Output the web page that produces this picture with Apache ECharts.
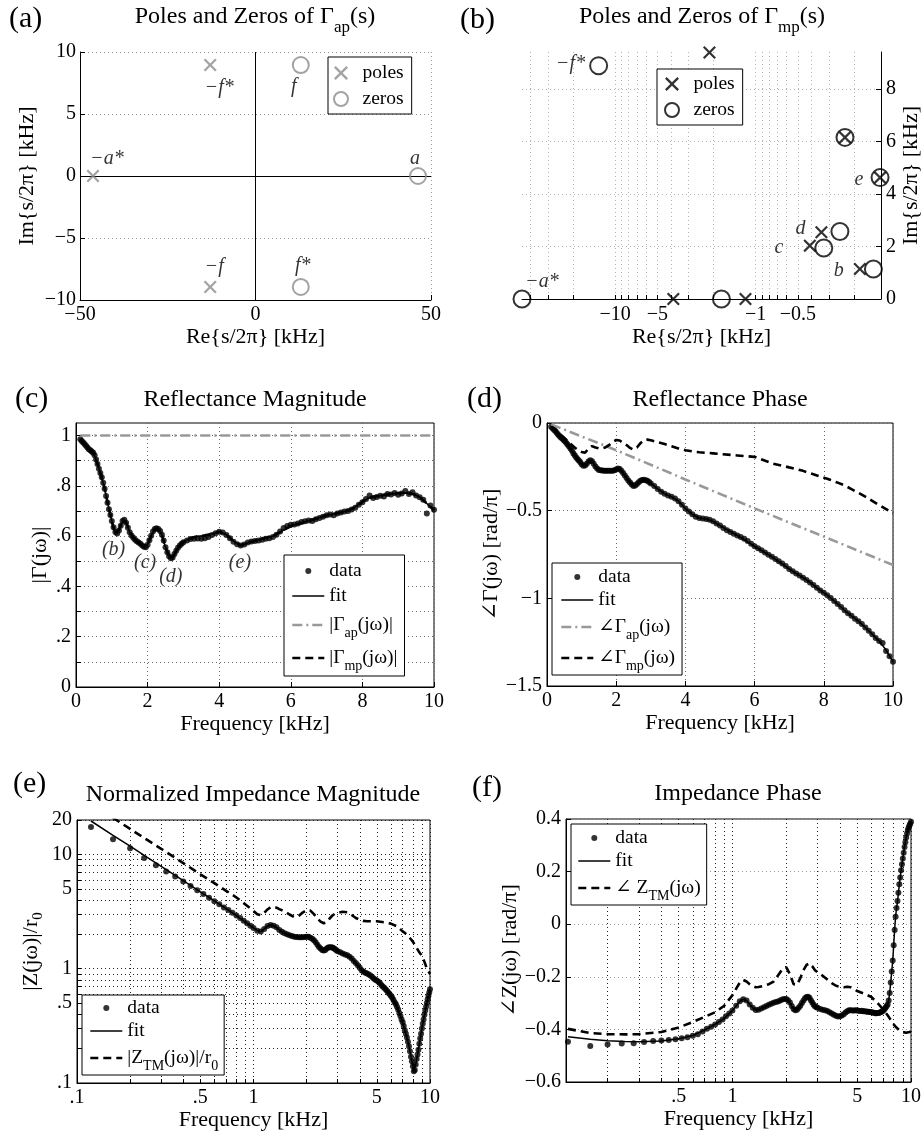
<!DOCTYPE html>
<html>
<head>
<meta charset="utf-8">
<script src="https://cdn.jsdelivr.net/npm/echarts@6/dist/echarts.min.js"></script>
<style>
  html, body { margin: 0; padding: 0; background: #fff; }
  #chart { width: 922px; height: 1131px; }
</style>
</head>
<body>
<div id="chart"></div>
<script>
// ---------------- pole / zero locations (kHz) ----------------
const apPoles = [[-46.3, 0], [-12.9, 8.95], [-12.9, -8.95]];
const apPoleNames = ['\u2212a*', '\u2212f*', '\u2212f'];
const apZeros = [[46.3, 0], [12.9, 8.95], [12.9, -8.95]];
const apZeroNames = ['a', 'f', 'f*'];

const mpPoles = [[-3.85, 0], [-1.18, 0], [-2.13, 9.38], [-0.231, 6.15], [-0.13, 4.62],
                 [-0.340, 2.54], [-0.411, 2.03], [-0.181, 1.14]];
const mpPoleNames = ['', '', '', '', 'e', 'd', 'c', 'b'];
const mpZeros = [[-46, 0], [-1.75, 0], [-13.1, 8.88], [-0.231, 6.15], [-0.13, 4.62],
                 [-0.251, 2.57], [-0.327, 1.94], [-0.145, 1.14]];
const mpZeroNames = ['\u2212a*', '', '\u2212f*', '', '', '', '', ''];

// ---------------- measured data (frequency in kHz) ----------------
const dataFreq = [
  0.12, 0.16, 0.20, 0.24, 0.28, 0.32, 0.36, 0.40, 0.44, 0.48,
  0.52, 0.56, 0.60, 0.64, 0.68, 0.72, 0.76, 0.80, 0.84, 0.88,
  0.92, 0.96, 1.00,
  1.05, 1.10, 1.15, 1.20, 1.25, 1.30, 1.35, 1.40, 1.45, 1.50,
  1.55, 1.60, 1.65, 1.70, 1.75, 1.80, 1.85, 1.90, 1.95, 2.00,
  2.05, 2.10, 2.15, 2.20, 2.25, 2.30, 2.35, 2.40, 2.45, 2.50,
  2.55, 2.60, 2.65, 2.70, 2.75, 2.80, 2.85, 2.90, 2.95, 3.00,
  3.1, 3.2, 3.3, 3.4, 3.5, 3.6, 3.7, 3.8, 3.9, 4.0,
  4.1, 4.2, 4.3, 4.4, 4.5, 4.6, 4.7, 4.8, 4.9, 5.0,
  5.1, 5.2, 5.3, 5.4, 5.5, 5.6, 5.7, 5.8, 5.9, 6.0,
  6.1, 6.2, 6.3, 6.4, 6.5, 6.6, 6.7, 6.8, 6.9, 7.0,
  7.1, 7.2, 7.3, 7.4, 7.5, 7.6, 7.7, 7.8, 7.9, 8.0,
  8.1, 8.2, 8.3, 8.4, 8.5, 8.6, 8.7, 8.8, 8.9, 9.0,
  9.1, 9.2, 9.3, 9.4, 9.5, 9.6, 9.7, 9.8, 9.9, 10.0
];
// |Gamma(jw)|
const magData = [
  0.985, 0.978, 0.972, 0.966, 0.960, 0.953, 0.946, 0.942, 0.937, 0.932,
  0.922, 0.905, 0.887, 0.868, 0.851, 0.834, 0.812, 0.788, 0.760, 0.733,
  0.707, 0.684, 0.660,
  0.635, 0.616, 0.611, 0.622, 0.641, 0.660, 0.665, 0.653, 0.633, 0.615,
  0.603, 0.594, 0.586, 0.580, 0.575, 0.570, 0.563, 0.558, 0.556, 0.566,
  0.584, 0.602, 0.618, 0.628, 0.631, 0.628, 0.620, 0.606, 0.583, 0.556,
  0.536, 0.520, 0.512, 0.515, 0.529, 0.542, 0.554, 0.563, 0.570, 0.576,
  0.583, 0.589, 0.590, 0.591, 0.590, 0.592, 0.597, 0.605, 0.612, 0.617,
  0.614, 0.605, 0.592, 0.578, 0.568, 0.563, 0.567, 0.575, 0.579, 0.581,
  0.583, 0.586, 0.590, 0.592, 0.597, 0.606, 0.618, 0.632, 0.640, 0.645,
  0.646, 0.650, 0.656, 0.659, 0.662, 0.660, 0.667, 0.672, 0.677, 0.683,
  0.686, 0.683, 0.690, 0.694, 0.698, 0.700, 0.706, 0.713, 0.725, 0.735,
  0.748, 0.762, 0.752, 0.756, 0.761, 0.758, 0.768, 0.766, 0.772, 0.765,
  0.770, 0.780, 0.768, 0.775, 0.762, 0.755, 0.745, 0.690, 0.722, 0.705
];
// angle Gamma(jw) [rad/pi]
const phaseData = [
  -0.022, -0.030, -0.038, -0.046, -0.056, -0.066, -0.074, -0.082, -0.089, -0.097,
  -0.104, -0.114, -0.124, -0.134, -0.146, -0.157, -0.172, -0.184, -0.195, -0.205,
  -0.214, -0.223, -0.235,
  -0.244, -0.243, -0.232, -0.220, -0.212, -0.218, -0.232, -0.248, -0.259, -0.268,
  -0.270, -0.271, -0.272, -0.272, -0.273, -0.273, -0.273, -0.273, -0.270, -0.265,
  -0.260, -0.262, -0.272, -0.285, -0.300, -0.314, -0.328, -0.340, -0.351, -0.360,
  -0.356, -0.348, -0.338, -0.330, -0.325, -0.323, -0.326, -0.330, -0.337, -0.345,
  -0.360, -0.376, -0.392, -0.404, -0.414, -0.421, -0.430, -0.446, -0.466, -0.488,
  -0.505, -0.521, -0.535, -0.542, -0.545, -0.547, -0.552, -0.561, -0.573, -0.585,
  -0.599, -0.612, -0.621, -0.631, -0.641, -0.650, -0.660, -0.673, -0.688, -0.703,
  -0.714, -0.726, -0.739, -0.751, -0.763, -0.776, -0.788, -0.801, -0.816, -0.832,
  -0.846, -0.858, -0.870, -0.882, -0.895, -0.909, -0.924, -0.940, -0.955, -0.968,
  -0.983, -0.998, -1.015, -1.032, -1.049, -1.068, -1.085, -1.100, -1.116, -1.130,
  -1.147, -1.166, -1.185, -1.205, -1.226, -1.244, -1.255, -1.300, -1.330, -1.362
];
// |Z(jw)|/r0
const zMagData = [
  17.4, 13.6, 11.3, 9.3, 8.05, 7.1, 6.4, 5.8, 5.3, 4.85,
  4.5, 4.18, 3.9, 3.66, 3.44, 3.26, 3.08, 2.92, 2.78, 2.63,
  2.50, 2.38, 2.27,
  2.15, 2.12, 2.22, 2.36, 2.41, 2.38, 2.30, 2.18, 2.10, 2.04,
  2.00, 1.96, 1.93, 1.90, 1.89, 1.88, 1.88, 1.88, 1.89, 1.90,
  1.90, 1.87, 1.83, 1.77, 1.70, 1.62, 1.55, 1.50, 1.46, 1.44,
  1.46, 1.50, 1.53, 1.54, 1.54, 1.53, 1.51, 1.48, 1.45, 1.42,
  1.39, 1.36, 1.33, 1.31, 1.27, 1.23, 1.17, 1.12, 1.07, 1.02,
  0.97, 0.94, 0.92, 0.91, 0.89, 0.87, 0.845, 0.82, 0.80, 0.79,
  0.77, 0.75, 0.72, 0.70, 0.68, 0.66, 0.64, 0.62, 0.60, 0.58,
  0.56, 0.535, 0.51, 0.49, 0.465, 0.44, 0.41, 0.385, 0.36, 0.34,
  0.315, 0.29, 0.27, 0.25, 0.23, 0.21, 0.19, 0.17, 0.155, 0.14,
  0.127, 0.13, 0.145, 0.162, 0.178, 0.195, 0.22, 0.245, 0.27, 0.30,
  0.33, 0.36, 0.395, 0.43, 0.465, 0.50, 0.54, 0.58, 0.62, 0.66
];
// angle Z(jw) [rad/pi]
const zPhaseData = [
  -0.447, -0.463, -0.457, -0.454, -0.453, -0.448, -0.444, -0.442, -0.440, -0.437,
  -0.434, -0.430, -0.424, -0.418, -0.408, -0.398, -0.390, -0.381, -0.372, -0.362,
  -0.350, -0.340, -0.328,
  -0.310, -0.293, -0.285, -0.290, -0.305, -0.318, -0.326, -0.325, -0.321, -0.316,
  -0.311, -0.306, -0.302, -0.299, -0.296, -0.294, -0.290, -0.286, -0.284, -0.284,
  -0.289, -0.298, -0.311, -0.322, -0.327, -0.325, -0.318, -0.310, -0.300, -0.290,
  -0.282, -0.277, -0.276, -0.280, -0.289, -0.298, -0.306, -0.312, -0.316, -0.318,
  -0.322, -0.325, -0.327, -0.330, -0.335, -0.340, -0.344, -0.348, -0.351, -0.350,
  -0.347, -0.342, -0.336, -0.331, -0.327, -0.327, -0.328, -0.328, -0.327, -0.328,
  -0.329, -0.330, -0.329, -0.331, -0.331, -0.332, -0.333, -0.333, -0.334, -0.335,
  -0.336, -0.337, -0.339, -0.339, -0.338, -0.338, -0.336, -0.334, -0.331, -0.328,
  -0.323, -0.318, -0.312, -0.305, -0.290, -0.262, -0.222, -0.180, -0.138, -0.080,
  -0.022, 0.028, 0.062, 0.088, 0.120, 0.152, 0.178, 0.205, 0.228, 0.250,
  0.272, 0.294, 0.312, 0.330, 0.345, 0.358, 0.367, 0.375, 0.382, 0.390
];

// ---------------- model curves (frequency in kHz) ----------------
const fitFreq = [
  0.12, 0.16, 0.2, 0.25, 0.3, 0.4, 0.5, 0.6, 0.7, 0.8, 0.9, 1.0,
  1.05, 1.1, 1.15, 1.2, 1.25, 1.3, 1.35, 1.4,
  1.5, 1.6, 1.7, 1.8, 1.9, 2.0, 2.1, 2.2, 2.3, 2.4, 2.5, 2.6, 2.7, 2.8, 2.9, 3.0,
  3.2, 3.4, 3.6, 3.8, 4.0, 4.2, 4.4, 4.6, 4.8, 5.0,
  5.5, 6.0, 6.5, 7.0,
  7.2, 7.4, 7.5, 7.6, 7.7, 7.8, 7.9, 8.0, 8.1, 8.2, 8.3, 8.4,
  8.6, 8.8, 9.0, 9.2, 9.4, 9.6, 9.8, 10.0
];
const magFit = [
  0.985, 0.978, 0.972, 0.965, 0.957, 0.943, 0.928, 0.888, 0.843, 0.789, 0.722, 0.660,
  0.632, 0.615, 0.612, 0.624, 0.642, 0.660, 0.664, 0.654,
  0.616, 0.594, 0.580, 0.569, 0.559, 0.567, 0.602, 0.627, 0.628, 0.605, 0.556, 0.521, 0.514, 0.541, 0.563, 0.577,
  0.592, 0.600, 0.603, 0.609, 0.618, 0.606, 0.580, 0.563, 0.573, 0.582,
  0.600, 0.640, 0.661, 0.683,
  0.688, 0.694, 0.698, 0.702, 0.708, 0.716, 0.726, 0.737, 0.746, 0.752, 0.756, 0.759,
  0.764, 0.768, 0.771, 0.772, 0.768, 0.756, 0.730, 0.703
];
const phaseFit = [
  -0.022, -0.030, -0.038, -0.048, -0.060, -0.082, -0.100, -0.124, -0.152, -0.184, -0.210, -0.235,
  -0.244, -0.243, -0.232, -0.220, -0.212, -0.218, -0.232, -0.248,
  -0.268, -0.271, -0.272, -0.273, -0.273, -0.265, -0.262, -0.285, -0.314, -0.340, -0.360, -0.348, -0.330, -0.323, -0.330, -0.345,
  -0.376, -0.404, -0.421, -0.446, -0.488, -0.521, -0.542, -0.547, -0.561, -0.585,
  -0.641, -0.703, -0.763, -0.832,
  -0.858, -0.882, -0.895, -0.909, -0.924, -0.940, -0.955, -0.968, -0.983, -0.998, -1.015, -1.032,
  -1.068, -1.100, -1.130, -1.166, -1.205, -1.244, -1.295, -1.362
];
const phaseMp = [
  -0.020, -0.026, -0.032, -0.040, -0.050, -0.068, -0.085, -0.104, -0.122, -0.140, -0.155, -0.165,
  -0.170, -0.170, -0.160, -0.145, -0.134, -0.132, -0.134, -0.140,
  -0.145, -0.144, -0.138, -0.125, -0.108, -0.097, -0.100, -0.113, -0.126, -0.142, -0.152, -0.140, -0.115, -0.098, -0.095, -0.098,
  -0.110, -0.120, -0.132, -0.145, -0.155, -0.162, -0.167, -0.170, -0.173, -0.177,
  -0.185, -0.193, -0.230, -0.253,
  -0.262, -0.273, -0.280, -0.286, -0.292, -0.299, -0.306, -0.312, -0.318, -0.325, -0.333, -0.340,
  -0.356, -0.377, -0.398, -0.420, -0.444, -0.468, -0.491, -0.514
];
const apMagFreq = [0.12, 10];
const apMag = [1, 1];
const apPhaseFreq = [0.12, 2, 4, 6, 8, 10];
const apPhase = [-0.008, -0.155, -0.322, -0.487, -0.648, -0.810];

const zMagFit = [
  19.6, 14.7, 11.8, 9.4, 7.85, 5.9, 4.7, 3.92, 3.35, 2.92, 2.55, 2.28,
  2.15, 2.12, 2.22, 2.36, 2.41, 2.38, 2.30, 2.18,
  2.04, 1.96, 1.90, 1.88, 1.88, 1.90, 1.88, 1.77, 1.62, 1.50, 1.44, 1.50, 1.54, 1.53, 1.48, 1.42,
  1.36, 1.31, 1.23, 1.12, 1.02, 0.94, 0.91, 0.87, 0.82, 0.79,
  0.68, 0.58, 0.465, 0.34,
  0.29, 0.25, 0.23, 0.21, 0.19, 0.17, 0.155, 0.14, 0.128, 0.13, 0.145, 0.162,
  0.195, 0.245, 0.30, 0.36, 0.43, 0.50, 0.58, 0.66
];
const zMagTM = [
  27.9, 20.9, 16.7, 13.4, 11.2, 8.4, 6.7, 5.6, 4.8, 4.2, 3.65, 3.2,
  3.0, 2.94, 3.08, 3.3, 3.45, 3.48, 3.42, 3.32,
  3.18, 2.98, 2.83, 2.88, 3.1, 3.26, 3.22, 3.0, 2.75, 2.58, 2.5, 2.55, 2.75, 2.92, 3.04, 3.08,
  3.15, 3.12, 2.95, 2.78, 2.68, 2.62, 2.6, 2.6, 2.6, 2.6,
  2.55, 2.48, 2.35, 2.12,
  2.06, 1.98, 1.94, 1.9, 1.86, 1.81, 1.76, 1.72, 1.67, 1.62, 1.57, 1.52,
  1.43, 1.36, 1.3, 1.2, 1.1, 1.0, 0.95, 0.9
];
const zPhaseFit = [
  -0.428, -0.437, -0.443, -0.446, -0.447, -0.444, -0.436, -0.423, -0.402, -0.381, -0.358, -0.328,
  -0.310, -0.293, -0.285, -0.290, -0.305, -0.318, -0.326, -0.325,
  -0.316, -0.306, -0.299, -0.294, -0.286, -0.284, -0.298, -0.322, -0.325, -0.310, -0.290, -0.277, -0.280, -0.298, -0.312, -0.318,
  -0.325, -0.330, -0.340, -0.348, -0.350, -0.342, -0.330, -0.327, -0.328, -0.328,
  -0.331, -0.334, -0.338, -0.328,
  -0.318, -0.305, -0.290, -0.260, -0.220, -0.180, -0.140, -0.080, -0.020, 0.030, 0.060, 0.085,
  0.150, 0.205, 0.250, 0.295, 0.330, 0.358, 0.375, 0.390
];
const zPhaseTM = [
  -0.398, -0.414, -0.418, -0.419, -0.418, -0.410, -0.393, -0.372, -0.352, -0.335, -0.310, -0.270,
  -0.245, -0.222, -0.212, -0.218, -0.228, -0.236, -0.240, -0.239,
  -0.234, -0.228, -0.218, -0.195, -0.172, -0.163, -0.190, -0.228, -0.230, -0.205, -0.175, -0.155, -0.149, -0.160, -0.175, -0.183,
  -0.196, -0.210, -0.224, -0.234, -0.238, -0.240, -0.238, -0.240, -0.247, -0.254,
  -0.265, -0.277, -0.300, -0.325,
  -0.336, -0.346, -0.352, -0.358, -0.364, -0.370, -0.376, -0.381, -0.386, -0.390, -0.394, -0.397,
  -0.403, -0.407, -0.410, -0.412, -0.413, -0.412, -0.410, -0.408
];

// resonance annotations on the magnitude plot: text and data-space anchor
const noteNames = ['(b)', '(c)', '(d)', '(e)'];
const noteAt = [[1.05, 0.545], [1.93, 0.495], [2.65, 0.44], [4.58, 0.495]];

// tick positions
const logTicksB = [0.2, 0.3, 0.4, 0.5, 0.6, 0.7, 0.8, 0.9, 1, 2, 3, 4, 5, 6, 7, 8, 9, 10, 20, 30, 40];
const logLabelsB = [10, 5, 1, 0.5];
const logTicksE = [0.1, 0.2, 0.3, 0.4, 0.5, 0.6, 0.7, 0.8, 0.9, 1, 2, 3, 4, 5, 6, 7, 8, 9, 10];
const logLabelsE = [0.1, 0.5, 1, 5, 10];
const logTicksEy = [0.1, 0.2, 0.3, 0.4, 0.5, 0.6, 0.7, 0.8, 0.9, 1, 2, 3, 4, 5, 6, 7, 8, 9, 10, 20];
const logLabelsEy = [0.1, 0.5, 1, 5, 10, 20];
const logTicksF = [0.2, 0.3, 0.4, 0.5, 0.6, 0.7, 0.8, 0.9, 1, 2, 3, 4, 5, 6, 7, 8, 9, 10];
const logLabelsF = [0.5, 1, 5, 10];
const magTicks = [0, 0.1, 0.2, 0.3, 0.4, 0.5, 0.6, 0.7, 0.8, 0.9, 1];
const magLabels = [0, 0.2, 0.4, 0.6, 0.8, 1];
const imTicksB = [0, 2, 4, 6, 8];

// ---------------- styling helpers ----------------
const SERIF = "'Liberation Serif','DejaVu Serif','Times New Roman',serif";
const BLACK = '#000';
const GREY = '#8c8c8c';
const NONE = 'rgba(0,0,0,0)';
const CROSS = 'path://M1.2,0L5,3.8L8.8,0L10,1.2L6.2,5L10,8.8L8.8,10L5,6.2L1.2,10L0,8.8L3.8,5L0,1.2Z';

const pairs = (xs, ys) => xs.map((x, i) => [x, ys[i]]);
const minusFmt = v => String(v).replace('-', '\u2212');
const leadFmt = v => (v > 0 && v < 1 ? String(v).replace(/^0/, '') : String(v));
const fixedFmt = v => (Math.abs(v) < 1e-9 ? '0' : minusFmt(v.toFixed(1)));

function merge(a, b) {
  const out = Object.assign({}, a);
  for (const k in b) {
    const v = b[k];
    if (v && typeof v === 'object' && !Array.isArray(v) && a[k] && typeof a[k] === 'object' && !Array.isArray(a[k])) {
      out[k] = merge(a[k], v);
    } else {
      out[k] = v;
    }
  }
  return out;
}

const axisBase = {
  axisLine: { show: true, onZero: false, lineStyle: { color: BLACK, width: 1 } },
  axisTick: { show: true, inside: true, length: 5, lineStyle: { color: BLACK, width: 1 } },
  axisLabel: { color: BLACK, fontFamily: SERIF, fontSize: 20, margin: 5 },
  splitLine: { show: true, lineStyle: { color: '#6a6a6a', width: 1, type: [1, 3] } },
  nameLocation: 'middle',
  nameTextStyle: { color: BLACK, fontFamily: SERIF, fontSize: 22 }
};
const ax = o => merge(axisBase, o);

const subRich = { sub: { fontSize: 14, lineHeight: 14, padding: [16, 0, 0, 0], fontFamily: SERIF, color: BLACK } };

const LEGEND_TEXT = {
  'a-poles': 'poles', 'a-zeros': 'zeros',
  'b-poles': 'poles', 'b-zeros': 'zeros',
  'c-data': 'data', 'c-fit': 'fit', 'c-ap': '|\u0393{sub|ap}(j\u03c9)|', 'c-mp': '|\u0393{sub|mp}(j\u03c9)|',
  'd-data': 'data', 'd-fit': 'fit', 'd-ap': '\u2220\u0393{sub|ap}(j\u03c9)', 'd-mp': '\u2220\u0393{sub|mp}(j\u03c9)',
  'e-data': 'data', 'e-fit': 'fit', 'e-tm': '|Z{sub|TM}(j\u03c9)|/r{sub|0}',
  'f-data': 'data', 'f-fit': 'fit', 'f-tm': '\u2220 Z{sub|TM}(j\u03c9)'
};

const legendBase = {
  orient: 'vertical', selectedMode: false,
  backgroundColor: '#fff', borderColor: BLACK, borderWidth: 1, borderRadius: 0,
  itemGap: 3, itemWidth: 32, itemHeight: 6,
  lineStyle: { width: 'inherit' },
  itemStyle: { borderWidth: 'inherit' },
  textStyle: { color: BLACK, fontFamily: SERIF, fontSize: 19.5, lineHeight: 22, rich: subRich },
  formatter: n => LEGEND_TEXT[n]
};
const lg = o => merge(legendBase, o);

function pointLabel(text, off) {
  return {
    show: !!text, formatter: text, position: 'inside', offset: off,
    color: BLACK, textBorderWidth: 0, fontFamily: SERIF, fontStyle: 'italic', fontSize: 20
  };
}
const apPoleOffsets = [[14, -17], [9, 23], [4, -20]];
const apZeroOffsets = [[-3, -17], [-7, 22], [2, -21]];
const mpPoleOffsets = [[0, 0], [0, 0], [0, 0], [0, 0], [-21, 2], [-21, -4], [-31, 2], [-21, 2]];
const mpZeroOffsets = [[20, -17], [0, 0], [-28, -2], [0, 0], [0, 0], [0, 0], [0, 0], [0, 0]];

const dotSeries = (name, idx, d) => ({
  name, type: 'scatter', xAxisIndex: idx, yAxisIndex: idx, data: d,
  symbol: 'circle', symbolSize: 6, itemStyle: { color: BLACK }, silent: true, z: 3
});
// line series: the transparent item colour keeps the legend icon to a bare line
const lineSeries = (name, idx, d, style) => ({
  name, type: 'line', xAxisIndex: idx, yAxisIndex: idx, data: d,
  symbol: 'none', silent: true, z: 4, lineStyle: style,
  itemStyle: { color: NONE, borderWidth: 0 }
});
const FIT = { color: BLACK, width: 1.5, type: 'solid' };
const DASH = { color: BLACK, width: 2.6, type: [8, 5] };
const DASHDOT = { color: '#999', width: 2.6, type: [10, 4, 2, 4] };

// titles and panel letters
const titleText = [
  [255, 17, 'Poles and Zeros of \u0393{sub|ap}(s)'],
  [702, 17, 'Poles and Zeros of \u0393{sub|mp}(s)'],
  [255, 400, 'Reflectance Magnitude'],
  [720, 399.5, 'Reflectance Phase'],
  [253, 795, 'Normalized Impedance Magnitude'],
  [738, 793.5, 'Impedance Phase']
];
const panelText = [[9, 19, '(a)'], [460, 20, '(b)'], [15, 399, '(c)'], [467, 399.5, '(d)'], [13, 784.5, '(e)'], [472, 788.5, '(f)']];

const graphic = titleText.map(t => ({
  type: 'text', x: t[0], y: t[1], silent: true,
  style: {
    text: t[2], fill: BLACK, fontSize: 24, fontFamily: SERIF, lineHeight: 26,
    textAlign: 'center', textVerticalAlign: 'middle', align: 'center', verticalAlign: 'middle',
    rich: { sub: { fontSize: 17, lineHeight: 17, padding: [22, 0, 0, 0], fontFamily: SERIF, fill: BLACK, color: BLACK } }
  }
})).concat(panelText.map(t => ({
  type: 'text', x: t[0], y: t[1], silent: true,
  style: {
    text: t[2], fill: BLACK, fontSize: 30, fontFamily: SERIF,
    textAlign: 'left', textVerticalAlign: 'middle', align: 'left', verticalAlign: 'middle'
  }
})));

const boxGrid = { show: true, borderColor: BLACK, borderWidth: 1, backgroundColor: 'transparent', containLabel: false, outerBoundsMode: 'none' };
const openGrid = { show: false, containLabel: false, outerBoundsMode: 'none' };

const option = {
  animation: false,
  backgroundColor: '#fff',
  textStyle: { fontFamily: SERIF },
  graphic,
  grid: [
    Object.assign({ left: 80, top: 52, width: 351, height: 248 }, openGrid),
    Object.assign({ left: 522, top: 52, width: 359, height: 247 }, openGrid),
    Object.assign({ left: 76, top: 423, width: 358, height: 264 }, boxGrid),
    Object.assign({ left: 547, top: 423, width: 346, height: 263 }, boxGrid),
    Object.assign({ left: 77, top: 820, width: 353, height: 263 }, boxGrid),
    Object.assign({ left: 566, top: 819, width: 345, height: 263 }, boxGrid)
  ],
  xAxis: [
    ax({ gridIndex: 0, type: 'value', min: -50, max: 50, interval: 50,
         name: 'Re{s/2\u03c0} [kHz]', nameGap: 24,
         axisLabel: { formatter: minusFmt }, splitLine: { lineStyle: { color: '#999' } } }),
    ax({ gridIndex: 1, type: 'log', inverse: true, min: 0.128, max: 46,
         name: 'Re{s/2\u03c0} [kHz]', nameGap: 23,
         axisTick: { customValues: logTicksB, length: 4 },
         axisLabel: { customValues: logLabelsB, formatter: v => '\u2212' + v, margin: 6 },
         splitLine: { lineStyle: { color: '#b4b4b4' } } }),
    ax({ gridIndex: 2, type: 'value', min: 0, max: 10, interval: 2, name: 'Frequency [kHz]', nameGap: 22 }),
    ax({ gridIndex: 3, type: 'value', min: 0, max: 10, interval: 2, name: 'Frequency [kHz]', nameGap: 22 }),
    ax({ gridIndex: 4, type: 'log', min: 0.1, max: 10, name: 'Frequency [kHz]', nameGap: 22,
         axisTick: { customValues: logTicksE, length: 4 },
         axisLabel: { customValues: logLabelsE, formatter: leadFmt },
         splitLine: { lineStyle: { color: '#222' } } }),
    ax({ gridIndex: 5, type: 'log', min: 0.117, max: 10, name: 'Frequency [kHz]', nameGap: 23,
         axisTick: { customValues: logTicksF, length: 4 },
         axisLabel: { customValues: logLabelsF, formatter: leadFmt },
         splitLine: { lineStyle: { color: '#222' } } })
  ],
  yAxis: [
    ax({ gridIndex: 0, type: 'value', min: -10, max: 10, interval: 5,
         name: 'Im{s/2\u03c0} [kHz]', nameGap: 42,
         axisLabel: { formatter: minusFmt, margin: 4 }, splitLine: { lineStyle: { color: '#999' } } }),
    ax({ gridIndex: 1, type: 'value', position: 'right', min: 0, max: 9.4,
         name: 'Im{s/2\u03c0} [kHz]', nameGap: 18,
         axisTick: { customValues: imTicksB }, axisLabel: { customValues: imTicksB, margin: 5 },
         splitLine: { lineStyle: { color: '#b4b4b4' } } }),
    ax({ gridIndex: 2, type: 'value', min: 0, max: 1.05,
         name: '|\u0393(j\u03c9)|', nameGap: 25,
         axisTick: { customValues: magTicks }, axisLabel: { customValues: magLabels, formatter: leadFmt } }),
    ax({ gridIndex: 3, type: 'value', min: -1.5, max: 0, interval: 0.5,
         name: '\u2220\u0393(j\u03c9) [rad/\u03c0]', nameGap: 43,
         axisLabel: { formatter: minusFmt } }),
    ax({ gridIndex: 4, type: 'log', min: 0.1, max: 20,
         name: '|Z(j\u03c9)|/r{sub|0}', nameGap: 34,
         nameTextStyle: { lineHeight: 24, rich: { sub: { fontSize: 15, lineHeight: 15, padding: [14, 0, 0, 0], fontFamily: SERIF, color: BLACK } } },
         axisTick: { customValues: logTicksEy, length: 4 },
         axisLabel: { customValues: logLabelsEy, formatter: leadFmt },
         splitLine: { lineStyle: { color: '#222' } } }),
    ax({ gridIndex: 5, type: 'value', min: -0.6, max: 0.4, interval: 0.2,
         name: '\u2220Z(j\u03c9) [rad/\u03c0]', nameGap: 41,
         axisLabel: { formatter: fixedFmt },
         splitLine: { lineStyle: { color: '#9a9a9a' } } })
  ],
  legend: [
    lg({ left: 328, top: 57, itemWidth: 33, itemHeight: 14, itemGap: 4, padding: [5, 8, 4, 5],
         data: ['a-poles', 'a-zeros'] }),
    lg({ left: 657, top: 69, itemWidth: 33, itemHeight: 14, itemGap: 4, padding: [4, 8, 4, 7],
         data: ['b-poles', 'b-zeros'] }),
    lg({ left: 284, top: 555, padding: [5, 7, 3, 7],
         data: [{ name: 'c-data', icon: 'circle' }, 'c-fit', 'c-ap', 'c-mp'] }),
    lg({ left: 552, top: 563, padding: [3, 7, 2, 8], itemGap: 1,
         data: [{ name: 'd-data', icon: 'circle' }, 'd-fit', 'd-ap', 'd-mp'] }),
    lg({ left: 82, top: 995, padding: [2, 6, 2, 7], itemGap: 1,
         data: [{ name: 'e-data', icon: 'circle' }, 'e-fit', 'e-tm'] }),
    lg({ left: 571, top: 824, padding: [3, 6, 2, 6], itemGap: 1,
         data: [{ name: 'f-data', icon: 'circle' }, 'f-fit', 'f-tm'] })
  ],
  series: [
    // (a) all-pass poles and zeros
    {
      name: 'a-poles', type: 'scatter', xAxisIndex: 0, yAxisIndex: 0, silent: true, z: 5,
      symbol: CROSS, symbolSize: 13, itemStyle: { color: GREY },
      data: apPoles.map((p, i) => ({ value: p, label: pointLabel(apPoleNames[i], apPoleOffsets[i]) })),
      markLine: {
        silent: true, symbol: ['none', 'none'], label: { show: false }, animation: false,
        lineStyle: { color: BLACK, width: 1, type: 'solid' },
        data: [{ xAxis: 0 }, { yAxis: 0 }]
      }
    },
    {
      name: 'a-zeros', type: 'scatter', xAxisIndex: 0, yAxisIndex: 0, silent: true, z: 5,
      symbol: 'circle', symbolSize: 16,
      itemStyle: { color: NONE, borderColor: GREY, borderWidth: 2 },
      data: apZeros.map((p, i) => ({ value: p, label: pointLabel(apZeroNames[i], apZeroOffsets[i]) }))
    },
    // (b) minimum-phase poles and zeros, plotted against |Re|
    {
      name: 'b-poles', type: 'scatter', xAxisIndex: 1, yAxisIndex: 1, silent: true, z: 5,
      symbol: CROSS, symbolSize: 13, itemStyle: { color: BLACK },
      data: mpPoles.map((p, i) => ({ value: [Math.abs(p[0]), p[1]], label: pointLabel(mpPoleNames[i], mpPoleOffsets[i]) }))
    },
    {
      name: 'b-zeros', type: 'scatter', xAxisIndex: 1, yAxisIndex: 1, silent: true, z: 5,
      symbol: 'circle', symbolSize: 17,
      itemStyle: { color: NONE, borderColor: BLACK, borderWidth: 2 },
      data: mpZeros.map((p, i) => ({ value: [Math.abs(p[0]), p[1]], label: pointLabel(mpZeroNames[i], mpZeroOffsets[i]) }))
    },
    // (c) reflectance magnitude
    lineSeries('c-ap', 2, pairs(apMagFreq, apMag), DASHDOT),
    dotSeries('c-data', 2, pairs(dataFreq, magData)),
    lineSeries('c-fit', 2, pairs(fitFreq, magFit), FIT),
    lineSeries('c-mp', 2, pairs(fitFreq, magFit), DASH),   // |Gamma_mp| equals |Gamma|
    {
      name: 'c-notes', type: 'scatter', xAxisIndex: 2, yAxisIndex: 2, silent: true, z: 6,
      symbolSize: 1, itemStyle: { color: NONE },
      data: noteAt.map((p, i) => ({ value: p, label: pointLabel(noteNames[i], [0, 0]) }))
    },
    // (d) reflectance phase
    lineSeries('d-ap', 3, pairs(apPhaseFreq, apPhase), DASHDOT),
    dotSeries('d-data', 3, pairs(dataFreq, phaseData)),
    lineSeries('d-fit', 3, pairs(fitFreq, phaseFit), FIT),
    lineSeries('d-mp', 3, pairs(fitFreq, phaseMp), DASH),
    // (e) impedance magnitude
    dotSeries('e-data', 4, pairs(dataFreq, zMagData)),
    lineSeries('e-fit', 4, pairs(fitFreq, zMagFit), FIT),
    lineSeries('e-tm', 4, pairs(fitFreq, zMagTM), DASH),
    // (f) impedance phase
    dotSeries('f-data', 5, pairs(dataFreq, zPhaseData)),
    lineSeries('f-fit', 5, pairs(fitFreq, zPhaseFit), FIT),
    lineSeries('f-tm', 5, pairs(fitFreq, zPhaseTM), DASH)
  ]
};

const chart = echarts.init(document.getElementById('chart'), null, { renderer: 'canvas' });
chart.setOption(option);
</script>
</body>
</html>
